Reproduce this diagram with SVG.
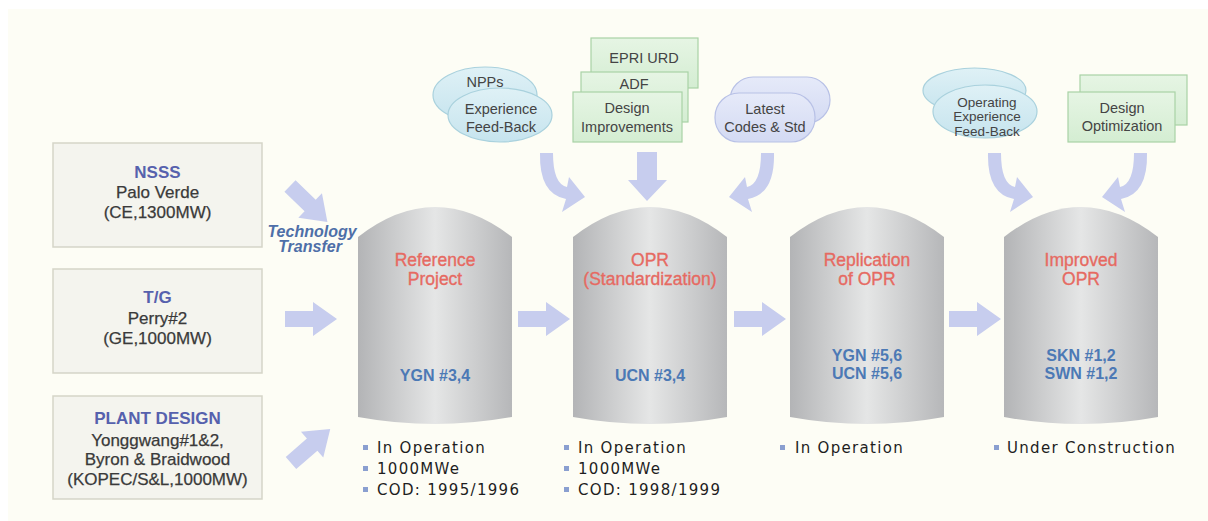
<svg xmlns="http://www.w3.org/2000/svg" width="1208" height="521" viewBox="0 0 1208 521">
<defs>
<linearGradient id="cyl" x1="0" y1="0" x2="1" y2="0">
<stop offset="0" stop-color="#b3b4b6"/>
<stop offset="0.5" stop-color="#e5e6e6"/>
<stop offset="1" stop-color="#b6b7b9"/>
</linearGradient>
<linearGradient id="cyan" x1="0" y1="0" x2="0" y2="1">
<stop offset="0" stop-color="#dff1f6"/>
<stop offset="1" stop-color="#c6e4ee"/>
</linearGradient>
<linearGradient id="lav" x1="0" y1="0" x2="0" y2="1">
<stop offset="0" stop-color="#e6eaf9"/>
<stop offset="1" stop-color="#d3daf3"/>
</linearGradient>
<linearGradient id="grn" x1="0" y1="0" x2="0" y2="1">
<stop offset="0" stop-color="#e6f5e4"/>
<stop offset="1" stop-color="#d4edd2"/>
</linearGradient>
<path id="harrow" d="M0,-8 H28 V-17 L52,0 L28,17 V8 H0 Z"/>
<path id="carrow" d="M540,153 Q539,194 566,199 L562,212 L585,197 L569,177 L567,187 Q553,184 553,153 Z"/>
</defs>
<style>
.src{fill:#f4f4ee;stroke:#d5d5c8;stroke-width:1.5}
.hd{font-family:"Liberation Sans",Arial,sans-serif;font-size:17px;font-weight:bold;fill:#5661ad;text-anchor:middle}
.bd{font-family:"Liberation Sans",Arial,sans-serif;font-size:17px;fill:#3a3a3a;stroke:#3a3a3a;stroke-width:0.25;text-anchor:middle}
.cy{fill:url(#cyl)}
.ct{font-family:"Liberation Sans",Arial,sans-serif;font-size:17.5px;fill:#e66a62;stroke:#e66a62;stroke-width:0.35;text-anchor:middle}
.cb{font-family:"Liberation Sans",Arial,sans-serif;font-size:16px;font-weight:bold;fill:#4c79b5;text-anchor:middle}
.arr{fill:#c7cdee}
.bl{font-family:"DejaVu Sans",Verdana,sans-serif;font-size:15px;letter-spacing:1.3px;fill:#1e1e1e}
.sq{fill:#8a9fd0}
.tt{font-family:"Liberation Sans",Arial,sans-serif;font-size:16px;font-weight:bold;font-style:italic;fill:#4e6fa8;text-anchor:middle}
.el{fill:url(#cyan);stroke:#a9d1dd;stroke-width:1.2}
.lv{fill:url(#lav);stroke:#b8c1e6;stroke-width:1.2}
.gb{fill:url(#grn);stroke:#a9d2a6;stroke-width:1.2}
.st{font-family:"Liberation Sans",Arial,sans-serif;font-size:14.5px;fill:#444;text-anchor:middle}
.st2{font-family:"Liberation Sans",Arial,sans-serif;font-size:13.5px;fill:#444;text-anchor:middle}
</style>
<rect x="0" y="0" width="1208" height="521" fill="#ffffff"/>
<rect x="8" y="9" width="1200" height="512" fill="#fdfdf5"/>

<g id="nsss">
<rect class="src" x="53" y="143" width="209" height="104"/>
<text class="hd" x="157.5" y="178">NSSS</text>
<text class="bd" x="157.5" y="198">Palo Verde</text>
<text class="bd" x="157.5" y="218">(CE,1300MW)</text>
</g>
<g id="tg">
<rect class="src" x="53" y="269" width="209" height="104"/>
<text class="hd" x="157.5" y="303">T/G</text>
<text class="bd" x="157.5" y="324">Perry#2</text>
<text class="bd" x="157.5" y="344">(GE,1000MW)</text>
</g>
<g id="plant">
<rect class="src" x="53" y="396" width="209" height="103"/>
<text class="hd" x="157.5" y="424">PLANT DESIGN</text>
<text class="bd" x="157.5" y="446">Yonggwang#1&amp;2,</text>
<text class="bd" x="157.5" y="465">Byron &amp; Braidwood</text>
<text class="bd" x="157.5" y="485">(KOPEC/S&amp;L,1000MW)</text>
</g>

<g id="tech-transfer">
<text class="tt" x="312" y="237">Technology</text>
<text class="tt" x="310" y="252">Transfer</text>
</g>

<g id="cyl1">
<path class="cy" d="M358,237 Q435,177 512,237 V417 Q435,431 358,417 Z"/>
<text class="ct" x="435" y="266">Reference</text>
<text class="ct" x="435" y="285">Project</text>
<text class="cb" x="435" y="381">YGN #3,4</text>
</g>
<g id="cyl2">
<path class="cy" d="M573,237 Q650,177 727,237 V417 Q650,431 573,417 Z"/>
<text class="ct" x="650" y="266">OPR</text>
<text class="ct" x="650" y="285">(Standardization)</text>
<text class="cb" x="650" y="381">UCN #3,4</text>
</g>
<g id="cyl3">
<path class="cy" d="M790,237 Q867,177 944,237 V417 Q867,431 790,417 Z"/>
<text class="ct" x="867" y="266">Replication</text>
<text class="ct" x="867" y="285">of OPR</text>
<text class="cb" x="867" y="361">YGN #5,6</text>
<text class="cb" x="867" y="379">UCN #5,6</text>
</g>
<g id="cyl4">
<path class="cy" d="M1004,237 Q1081,177 1158,237 V417 Q1081,431 1004,417 Z"/>
<text class="ct" x="1081" y="266">Improved</text>
<text class="ct" x="1081" y="285">OPR</text>
<text class="cb" x="1081" y="361">SKN #1,2</text>
<text class="cb" x="1081" y="379">SWN #1,2</text>
</g>

<g id="bullets1">
<rect class="sq" x="363" y="445" width="5" height="5"/>
<rect class="sq" x="363" y="466" width="5" height="5"/>
<rect class="sq" x="363" y="487" width="5" height="5"/>
<text class="bl" x="377" y="453">In Operation</text>
<text class="bl" x="377" y="474">1000MWe</text>
<text class="bl" x="377" y="495">COD: 1995/1996</text>
</g>
<g id="bullets2">
<rect class="sq" x="564" y="445" width="5" height="5"/>
<rect class="sq" x="564" y="466" width="5" height="5"/>
<rect class="sq" x="564" y="487" width="5" height="5"/>
<text class="bl" x="578" y="453">In Operation</text>
<text class="bl" x="578" y="474">1000MWe</text>
<text class="bl" x="578" y="495">COD: 1998/1999</text>
</g>
<g id="bullets3">
<rect class="sq" x="780" y="445" width="5" height="5"/>
<text class="bl" x="795" y="453">In Operation</text>
</g>
<g id="bullets4">
<rect class="sq" x="994" y="445" width="5" height="5"/>
<text class="bl" x="1007" y="453">Under Construction</text>
</g>

<g id="npps">
<ellipse class="el" cx="485" cy="95" rx="52" ry="28"/>
<ellipse class="el" cx="500" cy="115" rx="52" ry="27"/>
<text class="st" x="485" y="87">NPPs</text>
<text class="st" x="501" y="114">Experience</text>
<text class="st" x="501" y="132">Feed-Back</text>
</g>
<g id="design-improvements">
<rect class="gb" x="591" y="38" width="107" height="50"/>
<rect class="gb" x="581" y="72" width="107" height="50"/>
<rect class="gb" x="573" y="92" width="109" height="50"/>
<text class="st" x="644" y="63">EPRI URD</text>
<text class="st" x="634" y="89">ADF</text>
<text class="st" x="627" y="113">Design</text>
<text class="st" x="627" y="132">Improvements</text>
</g>
<g id="latest-codes">
<rect class="lv" x="730" y="77" width="100" height="46" rx="23"/>
<rect class="lv" x="715" y="93" width="100" height="49" rx="24"/>
<text class="st" x="765" y="114">Latest</text>
<text class="st" x="765" y="132">Codes &amp; Std</text>
</g>
<g id="operating-experience">
<ellipse class="el" cx="974.5" cy="90.5" rx="51.5" ry="22.5"/>
<ellipse class="el" cx="985" cy="111.5" rx="52" ry="26.5"/>
<text class="st2" x="987" y="107">Operating</text>
<text class="st2" x="987" y="121">Experience</text>
<text class="st2" x="987" y="136">Feed-Back</text>
</g>
<g id="design-optimization">
<rect class="gb" x="1080" y="75" width="107" height="50"/>
<rect class="gb" x="1068" y="92" width="107" height="50"/>
<text class="st" x="1122" y="113">Design</text>
<text class="st" x="1122" y="131">Optimization</text>
</g>

<g id="connectors">
<use href="#harrow" class="arr" transform="translate(290,186) rotate(44)"/>
<use href="#harrow" class="arr" transform="translate(285,319)"/>
<use href="#harrow" class="arr" transform="translate(291,463) rotate(-41)"/>
<use href="#harrow" class="arr" transform="translate(518,319)"/>
<use href="#harrow" class="arr" transform="translate(734,319)"/>
<use href="#harrow" class="arr" transform="translate(949,319)"/>
<use href="#carrow" class="arr"/>
<path class="arr" d="M637,152 H657 V180 H667 L647,201 L628,180 H637 Z"/>
<use href="#carrow" class="arr" transform="translate(1314,0) scale(-1,1)"/>
<use href="#carrow" class="arr" transform="translate(448,0)"/>
<use href="#carrow" class="arr" transform="translate(1687,0) scale(-1,1)"/>
</g>
</svg>
